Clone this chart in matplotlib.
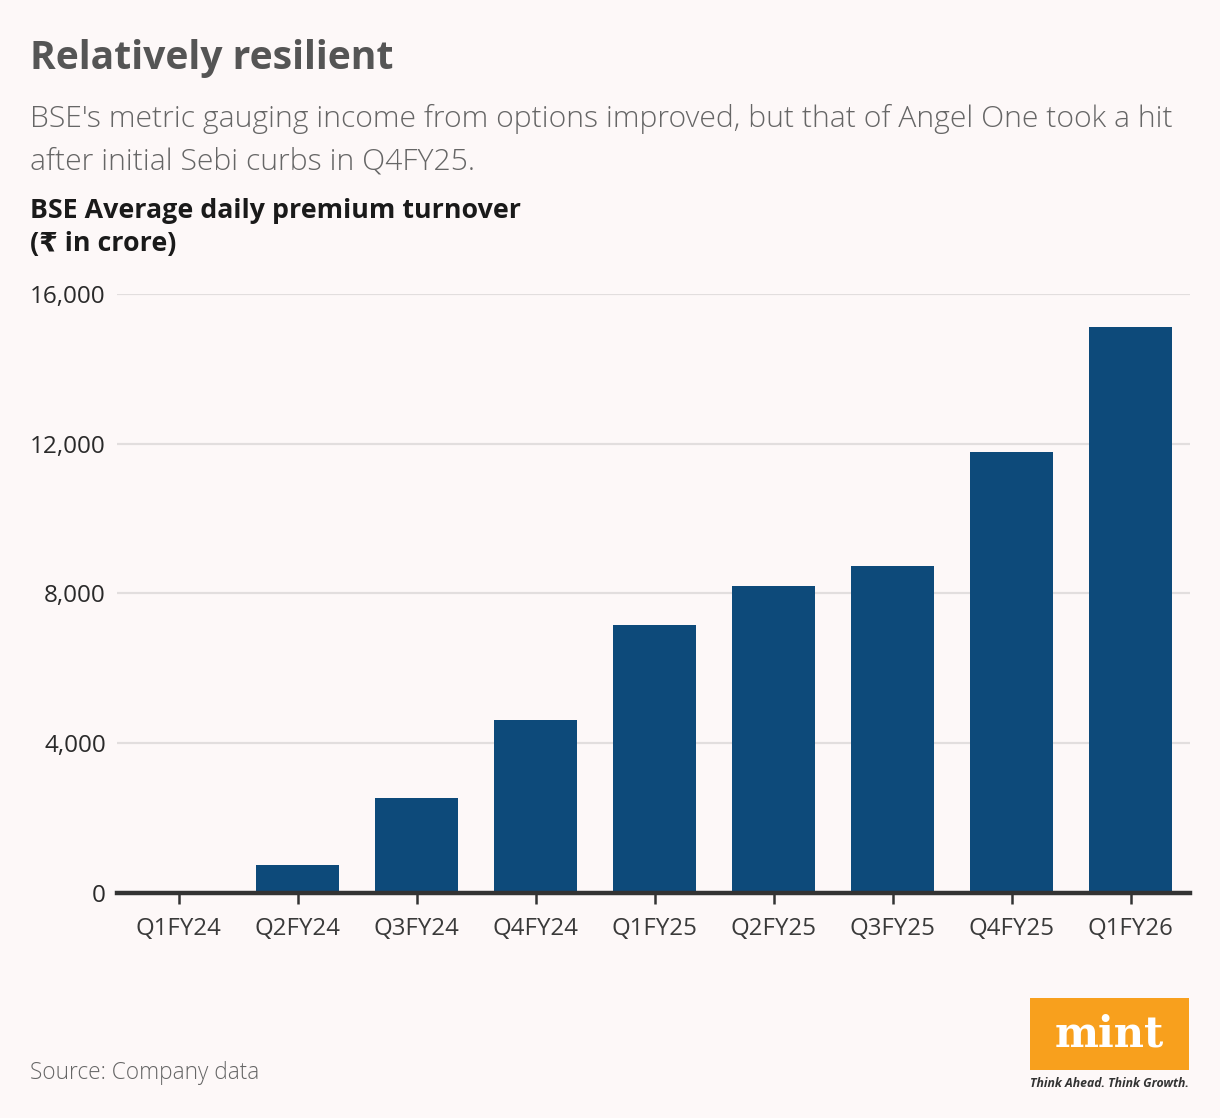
import numpy as np
import matplotlib
matplotlib.use('Agg')
import matplotlib.pyplot as plt
from matplotlib.patches import Rectangle

# data
quarters = ['Q1FY24', 'Q2FY24', 'Q3FY24', 'Q4FY24', 'Q1FY25',
            'Q2FY25', 'Q3FY25', 'Q4FY25', 'Q1FY26']
turnover = [0, 750, 2540, 4620, 7160, 8200, 8730, 11780, 15120]
yticks = [0, 4000, 8000, 12000, 16000]
ytick_labels = ['0', '4,000', '8,000', '12,000', '16,000']

bg = '#fdf8f8'
bar_color = '#0d4a7a'
fam = ['Open Sans', 'DejaVu Sans']
plt.rcParams['font.family'] = fam

fig = plt.figure(figsize=(12.2, 11.18), dpi=100, facecolor=bg)
ax = fig.add_axes([0.0959, 0.2013, 0.8795, 0.5358])
ax.set_facecolor(bg)

x = np.arange(len(quarters))
ax.bar(x, turnover, width=0.70, color=bar_color, zorder=3)

ax.set_xlim(-0.52, 8.5)
ax.set_ylim(0, 16000)
ax.set_yticks(yticks)
ax.set_yticklabels(ytick_labels)
ax.set_xticks(x)
ax.set_xticklabels(quarters)

ax.grid(axis='y', color='#e2dede', linewidth=1.6, zorder=0)
for s in ['top', 'right', 'left']:
    ax.spines[s].set_visible(False)
ax.spines['bottom'].set_color('#333333')
ax.spines['bottom'].set_linewidth(3.2)
ax.spines['bottom'].set_zorder(4)

ax.tick_params(axis='y', length=0, pad=8, labelsize=17.5, labelcolor='#2a2a2a')
ax.tick_params(axis='x', length=8, width=1.8, color='#333333', pad=9,
               labelsize=17.3, labelcolor='#3a3a3a')

# titles
fig.text(0.0246, 0.938, 'Relatively resilient', fontsize=28.2, fontweight='bold',
         color='#555555', va='baseline')
fig.text(0.0246, 0.886, "BSE's metric gauging income from options improved, but that of Angel One took a hit",
         fontsize=21.7, fontweight='light', color='#666666', va='baseline')
fig.text(0.0246, 0.848, 'after initial Sebi curbs in Q4FY25.',
         fontsize=21.7, fontweight='light', color='#666666', va='baseline')
fig.text(0.0246, 0.805, 'BSE Average daily premium turnover', fontsize=19.3,
         fontweight='bold', color='#1a1a1a', va='baseline')
fig.text(0.0246, 0.7755, '(₹ in crore)', fontsize=19.3, fontweight='bold',
         color='#1a1a1a', va='baseline', family=fam)

fig.text(0.0246, 0.035, 'Source: Company data', fontsize=16.3, fontweight='light',
         color='#666666', va='baseline')

# mint logo
fig.patches.append(Rectangle((0.8443, 0.0429), 0.1303, 0.0644,
                             transform=fig.transFigure, facecolor='#f8a01d',
                             edgecolor='none'))
fig.text(0.9094, 0.0745, 'mint', fontsize=30, fontweight='bold', family='DejaVu Serif',
         color='white', ha='center', va='center')
fig.text(0.9094, 0.0305, 'Think Ahead. Think Growth.', fontsize=8.8, style='italic',
         fontweight='bold', color='#333333', ha='center', va='center')

fig.savefig('out.png', dpi=100, facecolor=bg)
